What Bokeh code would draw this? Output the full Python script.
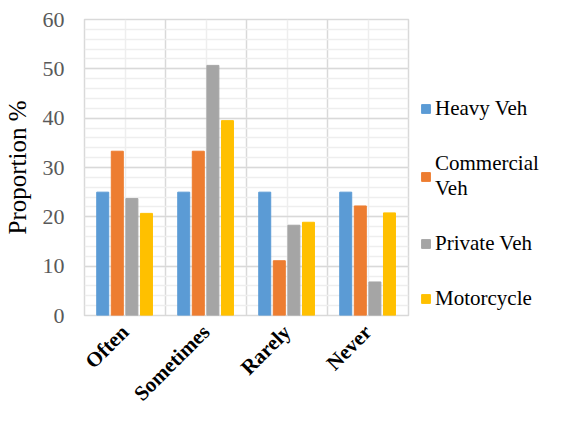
import math
from bokeh.plotting import figure
from bokeh.models import ColumnDataSource, FixedTicker, Legend, LegendItem, Range1d
from bokeh.transform import dodge
from bokeh.embed import file_html
from bokeh.resources import INLINE

categories = ["Often", "Sometimes", "Rarely", "Never"]
cat_pos = [0.5, 1.5, 2.5, 3.5]
series_names = ["Heavy Veh", "Commercial\nVeh", "Private Veh", "Motorcycle"]
heavy = [25.0, 25.0, 25.0, 25.0]
commercial = [33.3, 33.3, 11.1, 22.2]
private = [23.7, 50.7, 18.3, 6.8]
motorcycle = [20.7, 39.5, 18.9, 20.8]
colors = ["#5B9BD5", "#ED7D31", "#A5A5A5", "#FFC000"]
y_ticks = [0, 10, 20, 30, 40, 50, 60]
y_minor = list(range(0, 61, 2))

source = ColumnDataSource(dict(x=cat_pos, heavy=heavy, commercial=commercial,
                               private=private, motorcycle=motorcycle))

p = figure(frame_width=324, frame_height=296, output_backend="svg", toolbar_location=None,
           x_range=Range1d(0, 4), y_range=Range1d(0, 60),
           min_border_left=81, min_border_right=10, min_border_top=19, min_border_bottom=60)
p.background_fill_color = "white"
p.border_fill_color = "white"
p.outline_line_color = "#d9d9d9"
p.outline_line_width = 1.5

offsets = [-0.275, -0.095, 0.085, 0.265]
keys = ["heavy", "commercial", "private", "motorcycle"]
renderers = []
for k, off, c in zip(keys, offsets, colors):
    r = p.vbar(x=dodge("x", off), top=k, width=0.148, bottom=0, source=source,
               fill_color=c, line_color=c)
    renderers.append(r)

# axes
p.xaxis.ticker = FixedTicker(ticks=cat_pos)
p.xaxis.major_label_overrides = {pos: c for pos, c in zip(cat_pos, categories)}
p.xaxis.major_label_orientation = math.pi / 4
p.xaxis.major_label_text_font = "Liberation Serif"
p.xaxis.major_label_text_font_style = "bold"
p.xaxis.major_label_text_font_size = "21px"
p.xaxis.major_label_text_color = "black"
p.xaxis.axis_line_color = None
p.xaxis.major_tick_line_color = None
p.xaxis.minor_tick_line_color = None
p.xaxis.major_tick_out = 0
p.xaxis.major_tick_in = 0
p.xaxis.minor_tick_out = 0
p.xaxis.major_label_standoff = 13

p.yaxis.ticker = FixedTicker(ticks=y_ticks, minor_ticks=y_minor)
p.yaxis.axis_label = "Proportion %"
p.yaxis.axis_label_text_font = "Liberation Serif"
p.yaxis.axis_label_text_font_style = "normal"
p.yaxis.axis_label_text_font_size = "25px"
p.yaxis.axis_label_text_color = "black"
p.yaxis.axis_label_standoff = 9
p.yaxis.major_label_text_font = "Liberation Serif"
p.yaxis.major_label_text_font_size = "22px"
p.yaxis.major_label_text_color = "#595959"
p.yaxis.axis_line_color = None
p.yaxis.major_tick_line_color = None
p.yaxis.minor_tick_line_color = None
p.yaxis.major_tick_out = 0
p.yaxis.major_tick_in = 0
p.yaxis.minor_tick_out = 0
p.yaxis.major_label_standoff = 20

# grids
p.ygrid.grid_line_color = "#d9d9d9"
p.ygrid.grid_line_width = 1.5
p.ygrid.minor_grid_line_color = "#eeeeee"
p.ygrid.minor_grid_line_width = 1.5
p.xgrid.ticker = FixedTicker(ticks=[0, 1, 2, 3, 4], minor_ticks=cat_pos)
p.xgrid.grid_line_color = "#d9d9d9"
p.xgrid.grid_line_width = 1.5
p.xgrid.minor_grid_line_color = "#eeeeee"
p.xgrid.minor_grid_line_width = 1.5

legend = Legend(items=[LegendItem(label=n, renderers=[r]) for n, r in zip(series_names, renderers)],
                location=(12, 4))
legend.label_text_font = "Liberation Serif"
legend.label_text_font_size = "21px"
legend.label_text_color = "black"
legend.glyph_width = 11
legend.glyph_height = 11
legend.label_standoff = 4
legend.spacing = 30
legend.padding = 0
legend.margin = 0
legend.border_line_color = None
legend.background_fill_alpha = 0
p.add_layout(legend, "right")

open("out.html", "w").write(file_html(p, INLINE))
